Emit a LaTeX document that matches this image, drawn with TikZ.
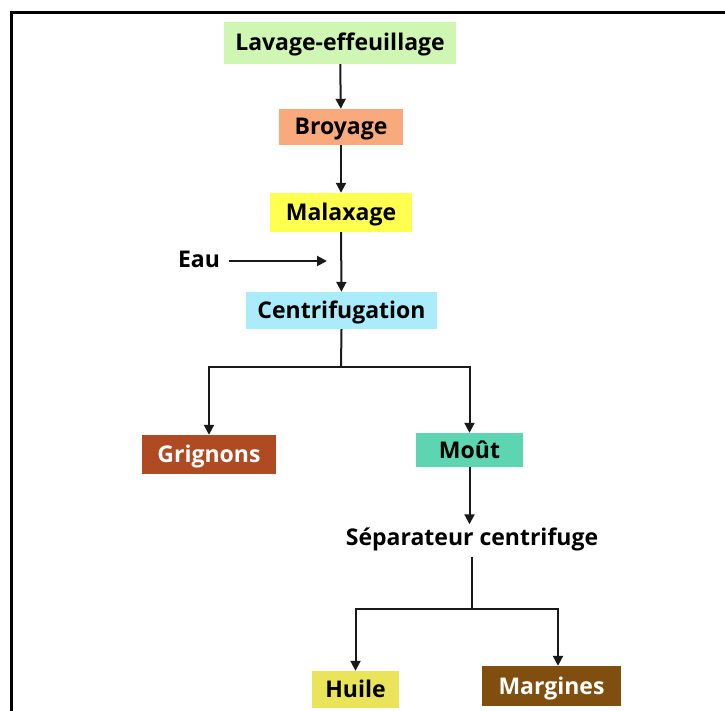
\documentclass[tikz,border=0pt]{standalone}
\usepackage{fontspec}
\setmainfont{Open Sans}
\usetikzlibrary{arrows.meta}
\definecolor{cLav}{RGB}{207,246,178}
\definecolor{cBro}{RGB}{249,170,125}
\definecolor{cMal}{RGB}{255,255,80}
\definecolor{cCen}{RGB}{170,236,250}
\definecolor{cGri}{RGB}{176,74,34}
\definecolor{cMou}{RGB}{92,213,176}
\definecolor{cHui}{RGB}{234,228,90}
\definecolor{cMar}{RGB}{128,78,14}
\begin{document}
\begin{tikzpicture}[x=1pt,y=-1pt,
  box/.style={inner sep=0pt, text height=16pt, text depth=0pt, font=\fontsize{23}{26}\selectfont\bfseries},
  arr/.style={line width=2pt, draw=black!90, -{Triangle[length=10pt,width=10pt]}},
  ln/.style={line width=2pt, draw=black!90}]
\useasboundingbox (0,0) rectangle (725,711);
\draw[line width=2.2pt] (11.5,711) -- (11.5,12.5) -- (725,12.5);

\node[box, fill=cLav, minimum width=232pt, minimum height=42pt] (lav) at (340,43) {Lavage-effeuillage};
\node[box, fill=cBro, minimum width=124pt, minimum height=36pt] (bro) at (341,127) {Broyage};
\node[box, fill=cMal, minimum width=142pt, minimum height=39pt] (mal) at (341,212.5) {Malaxage};
\node[box, fill=cCen, minimum width=191pt, minimum height=37pt] (cen) at (341.5,310.5) {Centrifugation};
\node[box, inner xsep=9pt] (eau) at (199,259.5) {Eau};
\coordinate (eauend) at (327,261);
\node[box, text=white, fill=cGri, minimum width=134pt, minimum height=39pt] (gri) at (209,454.5) {Grignons};
\node[box, fill=cMou, minimum width=107pt, minimum height=34pt] (mou) at (469.5,450) {Moût};
\node[box, minimum height=26pt] (sep) at (472,537.5) {Séparateur centrifuge};
\node[box, fill=cHui, minimum width=87pt, minimum height=37pt] (hui) at (355.5,689.5) {Huile};
\node[box, text=white, fill=cMar, minimum width=139pt, minimum height=40pt] (mar) at (551.5,686) {Margines};

\coordinate (j1) at (341,367);
\coordinate (j2) at (472,609);
\coordinate (j2r) at (558,609);

\draw[arr] (lav) -- (bro);
\draw[arr] (bro) -- (mal);
\draw[arr] (mal) -- (cen);
\draw[arr] (eau.east |- eauend) -- (eauend);
\draw[ln] (cen.south) -- (j1);
\draw[arr] (j1) -| (gri.north);
\draw[arr] (j1) -| (mou.north);
\draw[arr] (mou.south) -- (mou.south |- sep.north);
\draw[ln, shorten <=6pt] (sep.south) -- (j2);
\draw[arr] (j2) -| (hui.north);
\draw[arr] (j2) -- (j2r) -- (j2r |- mar.north);
\end{tikzpicture}
\end{document}
